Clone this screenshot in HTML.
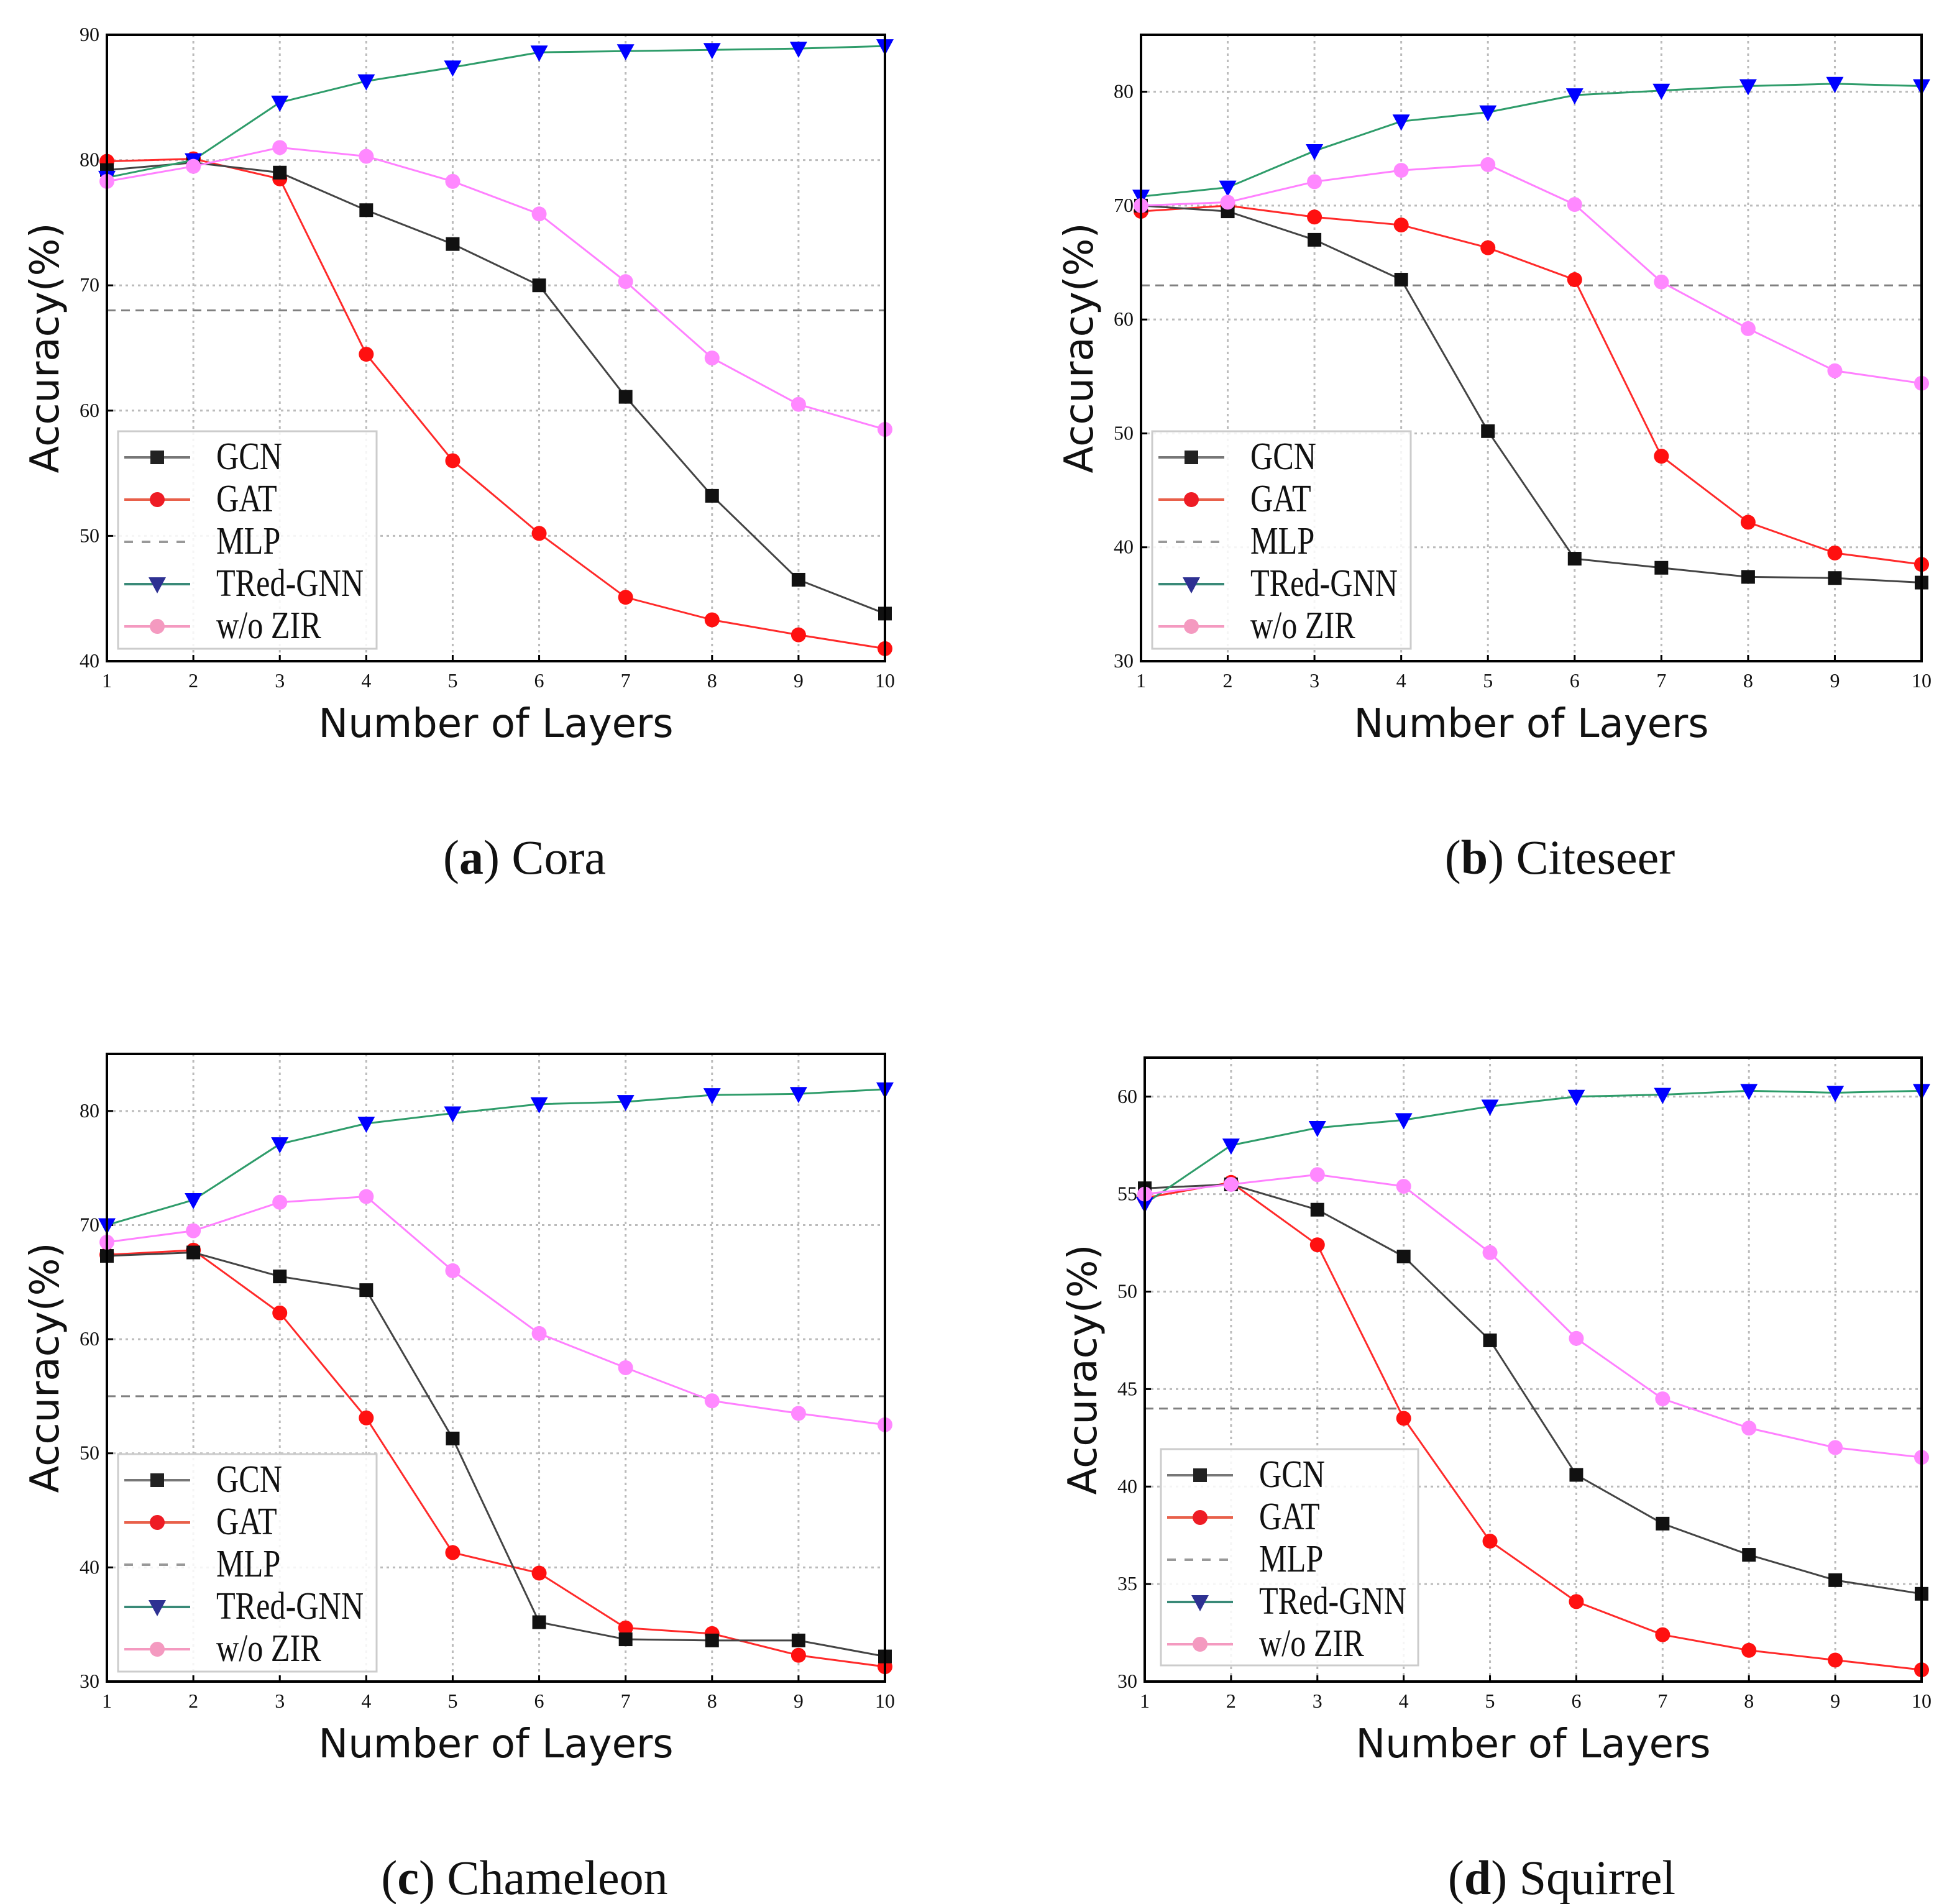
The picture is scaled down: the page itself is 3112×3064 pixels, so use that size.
<!DOCTYPE html>
<html><head><meta charset="utf-8">
<style>
html,body{margin:0;padding:0;background:#fff;}
svg{display:block;}
.tick{font-family:"Liberation Serif","Noto Serif CJK SC",serif;font-size:32px;fill:#111;}
.axl{font-family:"DejaVu Sans","Liberation Sans",sans-serif;font-size:64px;fill:#111;}
.leg{font-family:"Liberation Serif","Noto Serif CJK SC",serif;font-size:54px;fill:#111;}
.cap{font-family:"Liberation Serif",serif;font-size:78px;fill:#111;}
</style></head>
<body>
<svg id="fig" width="3112" height="3064" viewBox="0 0 3112 3064" xmlns="http://www.w3.org/2000/svg"></svg>
<script>
const layers=[1,2,3,4,5,6,7,8,9,10];
const coraGCN=[79.2,79.8,79.0,76.0,73.3,70.0,61.1,53.2,46.5,43.8];
const coraGAT=[79.9,80.1,78.5,64.5,56.0,50.2,45.1,43.3,42.1,41.0];
const coraMLP=68.0;
const coraTRed=[78.6,80.0,84.6,86.3,87.4,88.6,88.7,88.8,88.9,89.1];
const coraZIR=[78.3,79.5,81.0,80.3,78.3,75.7,70.3,64.2,60.5,58.5];
const citeGCN=[70.0,69.5,67.0,63.5,50.2,39.0,38.2,37.4,37.3,36.9];
const citeGAT=[69.5,70.0,69.0,68.3,66.3,63.5,48.0,42.2,39.5,38.5];
const citeMLP=63.0;
const citeTRed=[70.8,71.6,74.8,77.4,78.2,79.7,80.1,80.5,80.7,80.5];
const citeZIR=[70.0,70.3,72.1,73.1,73.6,70.1,63.3,59.2,55.5,54.4];
const chamGCN=[67.3,67.6,65.5,64.3,51.3,35.2,33.7,33.6,33.6,32.2];
const chamGAT=[67.4,67.8,62.3,53.1,41.3,39.5,34.7,34.2,32.3,31.3];
const chamMLP=55.0;
const chamTRed=[70.0,72.2,77.1,78.9,79.8,80.6,80.8,81.4,81.5,81.9];
const chamZIR=[68.5,69.5,72.0,72.5,66.0,60.5,57.5,54.6,53.5,52.5];
const squGCN=[55.3,55.5,54.2,51.8,47.5,40.6,38.1,36.5,35.2,34.5];
const squGAT=[54.8,55.6,52.4,43.5,37.2,34.1,32.4,31.6,31.1,30.6];
const squMLP=44.0;
const squTRed=[54.5,57.5,58.4,58.8,59.5,60.0,60.1,60.3,60.2,60.3];
const squZIR=[55.0,55.5,56.0,55.4,52.0,47.6,44.5,43.0,42.0,41.5];
const coraTicks=[40,50,60,70,80,90];
const citeTicks=[30,40,50,60,70,80];
const chamTicks=[30,40,50,60,70,80];
const squTicks=[30,35,40,45,50,55,60];

const NS="http://www.w3.org/2000/svg";
const svg=document.getElementById('fig');
function mk(tag,attrs,parent,text){const e=document.createElementNS(NS,tag);for(const k in attrs)e.setAttribute(k,attrs[k]);if(text!==undefined)e.textContent=text;(parent||svg).appendChild(e);return e;}

function marker(g,type,x,y,fill){
  let m;
  if(type==='sq'){m=mk('rect',{x:x-11,y:y-11,width:22,height:22,fill:fill},g);}
  else if(type==='ci'){m=mk('circle',{cx:x,cy:y,r:12,fill:fill},g);}
  else {m=mk('polygon',{points:`${x-14},${y-11} ${x+14},${y-11} ${x},${y+15}`,fill:fill},g);}
  return m;
}

function panel(id,P,ymin,ymax,yticks,series,mlp,leg,caption,capBold){
  const g=mk('g',{});
  
  
  const sx=v=>P.x0+(v-1)/9*(P.x1-P.x0);
  const sy=v=>P.y1-(v-ymin)/(ymax-ymin)*(P.y1-P.y0);
  const grid=mk('g',{},g);
  
  
  layers.forEach(l=>{mk('line',{x1:sx(l),x2:sx(l),y1:P.y0,y2:P.y1,stroke:'#bbb','stroke-width':3,'stroke-dasharray':'4 6'},grid);});
  yticks.forEach(t=>{mk('line',{x1:P.x0,x2:P.x1,y1:sy(t),y2:sy(t),stroke:'#bbb','stroke-width':3,'stroke-dasharray':'4 6'},grid);});
  layers.forEach(l=>{
    mk('line',{x1:sx(l),x2:sx(l),y1:P.y1,y2:P.y1-10,stroke:'#000','stroke-width':3},g);
    const t=mk('text',{x:sx(l),y:P.y1+42,'text-anchor':'middle',class:'tick'},g,String(l));
    
    
  });
  yticks.forEach(v=>{
    mk('line',{x1:P.x0,x2:P.x0+10,y1:sy(v),y2:sy(v),stroke:'#000','stroke-width':3},g);
    const t=mk('text',{x:P.x0-12,y:sy(v)+10,'text-anchor':'end',class:'tick'},g,String(v));
    
    
  });
  const ml=mk('line',{x1:P.x0,x2:P.x1,y1:sy(mlp),y2:sy(mlp),stroke:'#808080','stroke-width':3,'stroke-dasharray':'14 9'},g);
  
  
  series.forEach(s=>{
    const sg=mk('g',{},g);
    
    
    mk('polyline',{points:s.vals.map((v,i)=>sx(layers[i])+','+sy(v)).join(' '),fill:'none',stroke:s.line,'stroke-width':3},sg);
    s.vals.forEach((v,i)=>{const m=marker(sg,s.mk,sx(layers[i]),sy(v),s.fill);
      
      });
  });
  const fr=mk('rect',{x:P.x0,y:P.y0,width:P.x1-P.x0,height:P.y1-P.y0,fill:'none',stroke:'#000','stroke-width':4},g);
  
  
  const lg=mk('g',{},g);
  
  
  mk('rect',{x:leg.x,y:leg.y,width:leg.w,height:leg.h,fill:'#fff','fill-opacity':0.85,stroke:'#ccc','stroke-width':3},lg);
  const ents=[['GCN','#777','sq','#222',false],['GAT','#e8604a','ci','#ee1c25',false],['MLP','#999','none','',true],['TRed-GNN','#3a8a78','tr','#2e3192',false],['w/o ZIR','#f49ac0','ci','#f49ac0',false]];
  ents.forEach((e,i)=>{
    const y=leg.y+42+i*68;
    const eg=mk('g',{},lg);
    
    
    const a={x1:leg.x+10,x2:leg.x+116,y1:y,y2:y,stroke:e[1],'stroke-width':4};
    if(e[4])a['stroke-dasharray']='14 14';
    mk('line',a,eg);
    if(e[2]!=='none')marker(eg,e[2],leg.x+63,y,e[3]);
    const tx=leg.x+158, ty=y+19;
    mk('text',{x:tx,y:ty,class:'leg','xml:space':'preserve',transform:`translate(${tx} ${ty}) scale(0.93 1.15) translate(${-tx} ${-ty})`},eg,e[0]);
  });
  const xl=mk('text',{x:(P.x0+P.x1)/2,y:P.y1+122,'text-anchor':'middle',class:'axl'},g,'Number of Layers');
  
  
  const cy=(P.y0+P.y1)/2;
  const yl=mk('text',{x:P.x0-78,y:cy,'text-anchor':'middle',class:'axl',transform:`rotate(-90 ${P.x0-78} ${cy})`},g,'Accuracy(%)');
  
  
  const cp=mk('text',{x:(P.x0+P.x1)/2+46,y:P.y1+342,'text-anchor':'middle',class:'cap'},g);
  
  
  mk('tspan',{},cp,'(');
  mk('tspan',{'font-weight':'bold'},cp,capBold);
  mk('tspan',{},cp,') '+caption);
}
const S=(g,a,t,z)=>[
  {name:'gat',vals:a,line:'#ff2a2a',mk:'ci',fill:'#ff1010'},
  {name:'gcn',vals:g,line:'#444',mk:'sq',fill:'#111'},
  {name:'tred-gnn',vals:t,line:'#2e9c6a',mk:'tr',fill:'#0000ff'},
  {name:'wo-zir',vals:z,line:'#ff80ff',mk:'ci',fill:'#ff88ff'}];
panel('cora',{x0:172,x1:1424,y0:56,y1:1064},40,90,coraTicks,S(coraGCN,coraGAT,coraTRed,coraZIR),coraMLP,{x:190,y:694,w:416,h:350},'Cora','a');
panel('citeseer',{x0:1836,x1:3092,y0:56,y1:1064},30,85,citeTicks,S(citeGCN,citeGAT,citeTRed,citeZIR),citeMLP,{x:1854,y:694,w:416,h:350},'Citeseer','b');
panel('chameleon',{x0:172,x1:1424,y0:1696,y1:2706},30,85,chamTicks,S(chamGCN,chamGAT,chamTRed,chamZIR),chamMLP,{x:190,y:2340,w:416,h:350},'Chameleon','c');
panel('squirrel',{x0:1842,x1:3092,y0:1702,y1:2706},30,62,squTicks,S(squGCN,squGAT,squTRed,squZIR),squMLP,{x:1868,y:2332,w:414,h:348},'Squirrel','d');
</script>
</body></html>
